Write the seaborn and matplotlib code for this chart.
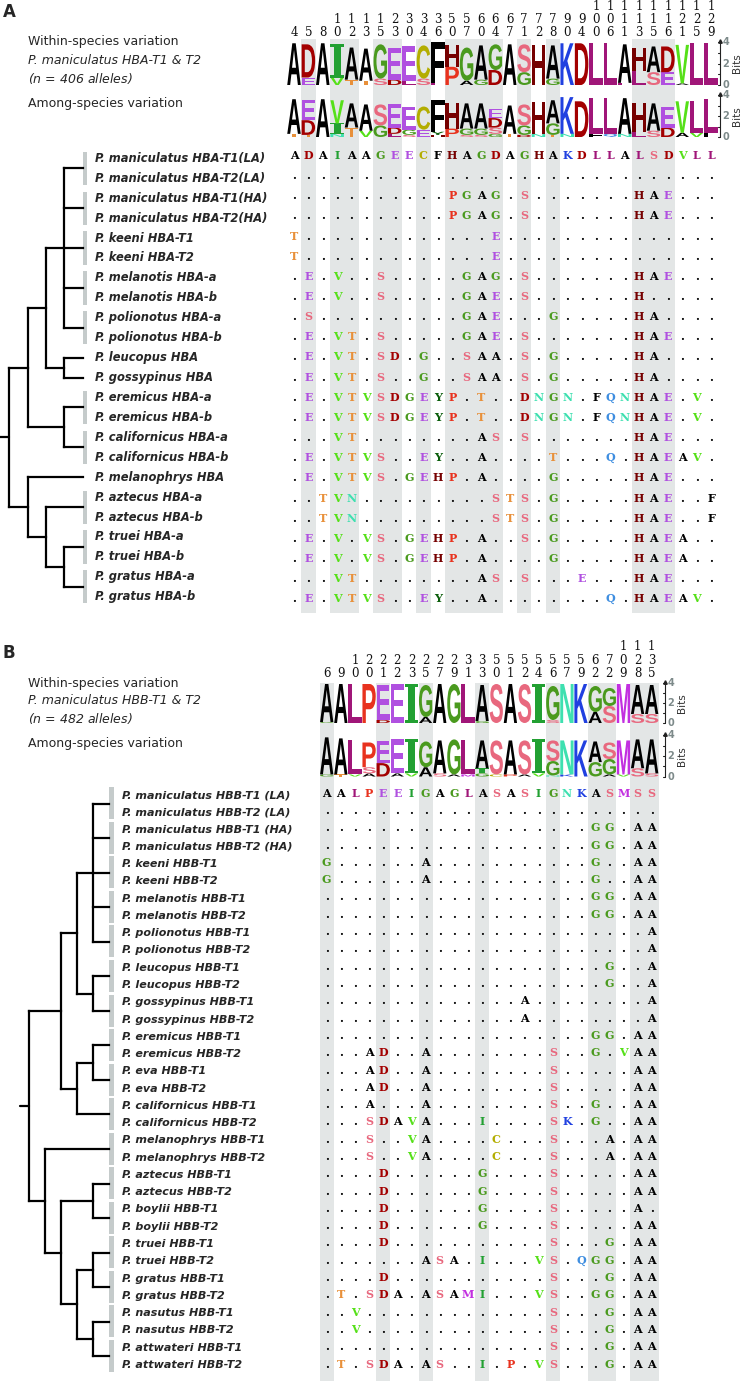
import numpy as np
import matplotlib
matplotlib.use("Agg")
import matplotlib.pyplot as plt
import seaborn as sns
from matplotlib.colors import ListedColormap
from matplotlib.font_manager import FontProperties
from matplotlib.patches import PathPatch, Rectangle
from matplotlib.textpath import TextPath
from matplotlib.transforms import Affine2D

sns.set_theme(style="white")
plt.rcParams["font.family"] = ["DejaVu Sans"]

W, H = 750, 1383

# ---------------- panel A data (HBA) ----------------
pos_a = [4, 5, 8, 10, 12, 13, 15, 23, 30, 34, 36, 50, 57, 60, 64, 67, 71, 72, 78,
         90, 94, 100, 106, 111, 113, 115, 116, 121, 125, 129]
shade_a = [0, 1, 0, 1, 1, 0, 1, 1, 0, 1, 0, 1, 1, 1, 1, 0, 1, 0, 1, 0, 0, 0, 0, 0,
           1, 1, 1, 0, 0, 0]
labels_a = ["P. maniculatus HBA-T1(LA)", "P. maniculatus HBA-T2(LA)",
            "P. maniculatus HBA-T1(HA)", "P. maniculatus HBA-T2(HA)",
            "P. keeni HBA-T1", "P. keeni HBA-T2",
            "P. melanotis HBA-a", "P. melanotis HBA-b",
            "P. polionotus HBA-a", "P. polionotus HBA-b",
            "P. leucopus HBA", "P. gossypinus HBA",
            "P. eremicus HBA-a", "P. eremicus HBA-b",
            "P. californicus HBA-a", "P. californicus HBA-b",
            "P. melanophrys HBA",
            "P. aztecus HBA-a", "P. aztecus HBA-b",
            "P. truei HBA-a", "P. truei HBA-b",
            "P. gratus HBA-a", "P. gratus HBA-b"]
seqs_a = ["ADAIAAGEECFHAGDAGHAKDLLALSDVLL",
          "..............................",
          "...........PGAG.S.......HAE...",
          "...........PGAG.S.......HAE...",
          "T.............E...............",
          "T.............E...............",
          ".E.V..S.....GAG.S.......HAE...",
          ".E.V..S.....GAE.S.......H.....",
          ".S..........GAE...G.....HA....",
          ".E.VT.S.....GAE.S.......HAE...",
          ".E.VT.SD.G..SAA.S.G.....HA....",
          ".E.VT.S..G..SAA.S.G.....HA....",
          ".E.VTVSDGEYP.T..DNGN.FQNHAE.V.",
          ".E.VTVSDGEYP.T..DNGN.FQNHAE.V.",
          "...VT........AS.S.......HAE...",
          ".E.VTVS..EY..A....T...Q.HAEAV.",
          ".E.VTVS.GEHP.A....G.....HAE...",
          "..TVN.........STS.G.....HAE..F",
          "..TVN.........STS.G.....HAE..F",
          ".E.V.VS.GEHP.A..S.G.....HAEA..",
          ".E.V.VS.GEHP.A....G.....HAEA..",
          "...VT........AS.S...E...HAE...",
          ".E.VTVS..EY..A........Q.HAEAV."]
# tips are row groups, lists are clades
tree_a = [[[[(0, 1), (2, 3), (4, 5), (6, 7), (8, 9)], [(10,), (11,)]],
           [(12, 13), (14, 15)]],
          [(16,), [(17, 18), [(19, 20), (21, 22)]]]]
logo_a_within = [
    [("A", 3.9)], [("D", 3.1), ("E", 0.7)], [("A", 3.9)], [("I", 3.1), ("V", 0.7)],
    [("A", 3.0), ("T", 0.5)], [("A", 3.0), ("T", 0.4)], [("G", 3.2), ("S", 0.6)],
    [("E", 3.0), ("D", 0.5)], [("E", 3.2), ("L", 0.4)], [("C", 3.1), ("S", 0.6)],
    [("F", 3.8), ("L", 0.2)], [("H", 2.0), ("P", 1.7)], [("G", 3.1), ("A", 0.4)],
    [("A", 3.2), ("G", 0.5)], [("G", 2.4), ("D", 1.4)], [("A", 3.8)],
    [("S", 2.6), ("G", 1.2)], [("H", 3.7)], [("A", 3.1), ("G", 0.6)],
    [("K", 3.9)], [("D", 3.9)], [("L", 3.9)], [("L", 3.9)], [("A", 3.6), ("L", 0.2)],
    [("H", 2.2), ("L", 1.3)], [("A", 2.4), ("S", 1.2)], [("D", 2.4), ("E", 1.2)],
    [("V", 3.6), ("A", 0.15)], [("L", 3.9)], [("L", 3.9)]]
logo_a_among = [
    [("A", 3.3), ("T", 0.3)], [("E", 1.9), ("D", 1.4), ("T", 0.2)], [("A", 3.6)],
    [("V", 2.2), ("I", 1.0), ("N", 0.3)], [("A", 2.3), ("T", 0.9)],
    [("A", 2.5), ("V", 0.6)], [("S", 2.0), ("G", 1.1)],
    [("E", 2.2), ("D", 0.6), ("L", 0.3)], [("E", 2.2), ("G", 0.5), ("S", 0.2)],
    [("C", 2.2), ("E", 0.7)], [("F", 3.0), ("Y", 0.3), ("H", 0.2)],
    [("H", 2.4), ("P", 0.8)], [("A", 2.4), ("G", 0.6), ("S", 0.2)],
    [("A", 2.4), ("G", 0.6), ("S", 0.2)], [("D", 0.9), ("E", 0.9), ("S", 0.6), ("G", 0.3)],
    [("A", 2.7), ("T", 0.3)], [("S", 2.0), ("G", 0.9), ("D", 0.2)],
    [("H", 3.0), ("N", 0.3)], [("A", 2.2), ("G", 1.1), ("T", 0.2)],
    [("K", 3.5), ("N", 0.3)], [("D", 3.4)], [("L", 3.4), ("F", 0.3)],
    [("L", 3.4), ("Q", 0.3)], [("A", 3.4), ("N", 0.3)], [("H", 2.7), ("L", 0.5)],
    [("A", 2.6), ("S", 0.6)], [("E", 2.0), ("D", 0.9)], [("V", 3.0), ("A", 0.4)],
    [("L", 3.0), ("V", 0.4)], [("L", 3.2), ("F", 0.4)]]

# ---------------- panel B data (HBB) ----------------
pos_b = [6, 9, 10, 20, 21, 22, 23, 25, 27, 29, 31, 33, 50, 51, 52, 54, 56, 57, 59,
         62, 72, 109, 128, 135]
shade_b = [1, 0, 0, 0, 1, 0, 0, 1, 0, 0, 0, 1, 0, 0, 0, 0, 1, 0, 0, 1, 1, 0, 1, 1]
labels_b = ["P. maniculatus HBB-T1 (LA)", "P. maniculatus HBB-T2 (LA)",
            "P. maniculatus HBB-T1 (HA)", "P. maniculatus HBB-T2 (HA)",
            "P. keeni HBB-T1", "P. keeni HBB-T2",
            "P. melanotis HBB-T1", "P. melanotis HBB-T2",
            "P. polionotus HBB-T1", "P. polionotus HBB-T2",
            "P. leucopus HBB-T1", "P. leucopus HBB-T2",
            "P. gossypinus HBB-T1", "P. gossypinus HBB-T2",
            "P. eremicus HBB-T1", "P. eremicus HBB-T2",
            "P. eva HBB-T1", "P. eva HBB-T2",
            "P. californicus HBB-T1", "P. californicus HBB-T2",
            "P. melanophrys HBB-T1", "P. melanophrys HBB-T2",
            "P. aztecus HBB-T1", "P. aztecus HBB-T2",
            "P. boylii HBB-T1", "P. boylii HBB-T2",
            "P. truei HBB-T1", "P. truei HBB-T2",
            "P. gratus HBB-T1", "P. gratus HBB-T2",
            "P. nasutus HBB-T1", "P. nasutus HBB-T2",
            "P. attwateri HBB-T1", "P. attwateri HBB-T2"]
seqs_b = ["AALPEEIGAGLASASIGNKASMSS",
          "........................",
          "...................GG.AA",
          "...................GG.AA",
          "G......A...........G..AA",
          "G......A...........G..AA",
          "...................GG.AA",
          "...................GG.AA",
          ".......................A",
          ".......................A",
          "....................G..A",
          "....................G..A",
          "..............A........A",
          "..............A........A",
          "...................GG.AA",
          "...AD..A........S..G.VAA",
          "...AD..A........S.....AA",
          "...AD..A........S.....AA",
          "...A...A........S..G..AA",
          "...SDAVA...I....SK.G..AA",
          "...S..VA....C...S...A.AA",
          "...S..VA....C...S...A.AA",
          "....D......G....S.....AA",
          "....D......G....S.....AA",
          "....D......G....S.....A.",
          "....D......G....S.....AA",
          "....D...........S...G.AA",
          ".......ASA.I...VS.QGG.AA",
          "....D...........S...G.AA",
          ".T.SDA.ASAMI...VS..GG.AA",
          "..V.............S...G.AA",
          "..V.............S...G.AA",
          "................S...G.AA",
          ".T.SDA.AS..I.P.VS...G.AA"]
tree_b = [[[[(0, 1), (2, 3), (4, 5), (6, 7), (8, 9)], [(10, 11), (12, 13)]],
           [[(14, 15), (16, 17)], (18, 19)]],
          [(20, 21), [[(22, 23), (24, 25)], [[(26, 27), (28, 29)], [(30, 31), (32, 33)]]]]]
logo_b_within = [
    [("A", 3.8), ("G", 0.1)], [("A", 3.9)], [("L", 3.9)], [("P", 3.9)],
    [("E", 3.5), ("D", 0.3)], [("E", 3.9)], [("I", 3.9)], [("G", 3.2), ("A", 0.6)],
    [("A", 3.9)], [("G", 3.9)], [("L", 3.9)], [("A", 3.6), ("G", 0.2)],
    [("S", 3.9)], [("A", 3.9)], [("S", 3.9)], [("I", 3.9)], [("G", 3.4), ("S", 0.3)],
    [("N", 3.9)], [("K", 3.9)], [("G", 2.6), ("A", 1.1)], [("G", 1.8), ("S", 1.7)],
    [("M", 3.9)], [("A", 2.9), ("S", 0.9)], [("A", 2.9), ("S", 0.9)]]
logo_b_among = [
    [("A", 3.6), ("G", 0.2)], [("A", 3.5), ("T", 0.2)], [("L", 3.3), ("V", 0.2)],
    [("P", 2.4), ("S", 0.6), ("A", 0.3)], [("E", 2.1), ("D", 1.3)],
    [("E", 3.3), ("A", 0.3)], [("I", 3.3), ("V", 0.3)], [("G", 2.5), ("A", 0.9)],
    [("A", 3.2), ("S", 0.3)], [("G", 3.4), ("A", 0.2)], [("L", 3.3), ("M", 0.2)],
    [("A", 2.7), ("I", 0.5), ("G", 0.3)], [("S", 3.3), ("C", 0.2)],
    [("A", 3.3), ("P", 0.2)], [("S", 3.3), ("A", 0.2)], [("I", 3.3), ("V", 0.3)],
    [("S", 2.0), ("G", 1.4), ("N", 0.1)], [("N", 3.3), ("K", 0.2)], [("K", 3.5)],
    [("A", 2.0), ("G", 1.4)], [("S", 1.6), ("G", 1.5), ("A", 0.2)],
    [("M", 3.3), ("V", 0.2)], [("A", 2.8), ("S", 0.8)], [("A", 3.3), ("S", 0.3)]]

# residue colours
aa_colors = {"A": "#000000", "C": "#b3ad00", "D": "#a30000", "E": "#b050e0",
             "F": "#000000", "G": "#4a9a1e", "H": "#760000", "I": "#22a032",
             "K": "#2040e0", "L": "#a01678", "M": "#c22fe0", "N": "#3ee0b0",
             "P": "#e8321e", "Q": "#3f8ee0", "S": "#e8687e", "T": "#e8903a",
             "V": "#55e018", "Y": "#0b5e0b", ".": "#000000"}
SHADE = "#e3e6e6"
BAR = "#c5cbcb"

fig = plt.figure(figsize=(W / 100, H / 100), dpi=100)
ax = fig.add_axes([0, 0, 1, 1], zorder=2)
ax.set_xlim(0, W)
ax.set_ylim(H, 0)
ax.axis("off")
ax.patch.set_alpha(0)

fp_logo = FontProperties(family="Liberation Sans", weight="bold")
fp_logo_i = FontProperties(family="DejaVu Serif", weight="bold")


def shade_columns(xs, cw, y_top, y_bot, flags):
    left = (xs[0] - cw / 2) / W
    right = (xs[-1] + cw / 2) / W
    axh = fig.add_axes([left, 1 - y_bot / H, right - left, (y_bot - y_top) / H], zorder=0)
    data = np.array([flags], dtype=float)
    sns.heatmap(data, mask=data == 0, cmap=ListedColormap([SHADE, SHADE]), vmin=0, vmax=1,
                cbar=False, xticklabels=False, yticklabels=False, ax=axh)
    axh.set_axis_off()


def draw_letter(ch, xc, y_bot, w, h):
    if h <= 0.3:
        return
    tp = TextPath((0, 0), ch, size=10, prop=fp_logo_i if ch == "I" else fp_logo)
    bb = tp.get_extents()
    tr = (Affine2D().translate(-bb.x0, -bb.y0)
          .scale(w / bb.width, -h / bb.height).translate(xc - w / 2, y_bot))
    ax.add_patch(PathPatch(tr.transform_path(tp), fc=aa_colors.get(ch, "k"), ec="none", lw=0))


def draw_logo(logo, xs, cw, base, ppb):
    for x, stack in zip(xs, logo):
        y = base
        for ch, bits in sorted(stack, key=lambda t: t[1]):
            h = bits * ppb
            draw_letter(ch, x, y, cw * 0.94, h)
            y -= h


def bits_axis(x, base, ppb):
    ax.plot([x, x], [base, base - 4.1 * ppb], color="#222222", lw=0.8)
    ax.plot([x], [base - 4.1 * ppb], marker="^", ms=2.5, color="#222222")
    for b in range(5):
        ax.plot([x - 2.5, x], [base - b * ppb] * 2, color="#222222", lw=0.8)
    for b in (0, 2, 4):
        ax.text(x + 2.5, base - b * ppb, str(b), color="#7d8a8a", fontsize=7,
                fontweight="bold", ha="left", va="center")
    ax.text(x + 17, base - 2 * ppb, "Bits", rotation=90, fontsize=7.5,
            color="#333333", ha="center", va="center")


def draw_tree(node, row_y, tip_x, step):
    if isinstance(node, tuple):
        ys = [row_y[r] for r in node]
        return tip_x, (min(ys) + max(ys)) / 2, 0
    kids = [draw_tree(c, row_y, tip_x, step) for c in node]
    h = max(k[2] for k in kids) + 1
    x = tip_x - h * step
    ys = [k[1] for k in kids]
    for kx, ky, _ in kids:
        ax.plot([x, kx], [ky, ky], color="black", lw=1.6, solid_capstyle="projecting")
    ax.plot([x, x], [min(ys), max(ys)], color="black", lw=1.6, solid_capstyle="projecting")
    return x, (min(ys) + max(ys)) / 2, h


def tip_bars(node, row_y, bx, bw, up, down):
    if isinstance(node, tuple):
        if len(node) > 1:
            y0 = row_y[node[0]] - up
            y1 = row_y[node[-1]] + down
            ax.add_patch(Rectangle((bx, y0), bw, y1 - y0, fc=BAR, ec="none"))
        return
    for c in node:
        tip_bars(c, row_y, bx, bw, up, down)


def draw_panel(L):
    n = len(L["pos"])
    xs = L["x0"] + L["dx"] * np.arange(n)
    shade_columns(xs, L["dx"], L["shade_y"][0], L["shade_y"][1], L["shade"])
    # position numbers, stacked vertically
    for x, p in zip(xs, L["pos"]):
        s = str(p)
        for j, ch in enumerate(s):
            ax.text(x, L["digit_y"][3 - len(s) + j], ch, ha="center", va="center",
                    fontsize=8.5, family="DejaVu Serif", color="#111111")
    draw_logo(L["logo1"], xs, L["dx"], L["logo1_base"], L["ppb1"])
    draw_logo(L["logo2"], xs, L["dx"], L["logo2_base"], L["ppb2"])
    bits_axis(L["bits_x"], L["logo1_base"], L["ppb1"])
    bits_axis(L["bits_x"], L["logo2_base"], L["ppb2"])
    # alignment
    for i, seq in enumerate(L["seqs"]):
        yb = L["row0"] + L["drow"] * i + 4
        for x, ch in zip(xs, seq):
            ax.text(x, yb, ch, ha="center", va="baseline", fontsize=8,
                    family="DejaVu Serif", fontweight="bold", color=aa_colors.get(ch, "k"))
    # labels and tree
    lab_y = L["lab0"] + L["dlab"] * np.arange(len(L["labels"]))
    for y, lab in zip(lab_y, L["labels"]):
        ax.text(L["lab_x"], y, lab, ha="left", va="center", fontsize=L["lab_fs"],
                fontweight="bold", fontstyle="italic")
    tip_bars(L["tree"], lab_y, L["tip_x"], 4.2, L["bar_up"], L["bar_down"])
    rx, ry, _ = draw_tree(L["tree"], lab_y, L["tip_x"], L["step"])
    ax.plot([rx - L["root_tick"], rx], [ry, ry], color="black", lw=1.6)
    # header texts
    ax.text(L["letter_xy"][0], L["letter_xy"][1], L["letter"], fontsize=12,
            fontweight="bold", ha="left", va="center")
    tx, ty = L["title_xy"]
    ax.text(tx, ty, "Within-species variation", fontsize=9, ha="left", va="center")
    ax.text(tx, ty + 18, L["species"], fontsize=9, style="italic", ha="left", va="center")
    ax.text(tx, ty + 36, "(" + r"$\it{n}$" + " = %d alleles)" % L["n"], fontsize=9,
            style="italic", ha="left", va="center")
    ax.text(tx, L["among_y"], "Among-species variation", fontsize=9, ha="left", va="center")


panel_a = dict(pos=pos_a, shade=shade_a, seqs=seqs_a, labels=labels_a, tree=tree_a,
               logo1=logo_a_within, logo2=logo_a_among,
               x0=294, dx=14.38, shade_y=(39, 613), digit_y=(6, 19.5, 33),
               logo1_base=85, ppb1=10.7, logo2_base=137, ppb2=10.5, bits_x=720,
               row0=155, drow=20.15, lab0=158.3, dlab=19.93, lab_x=95, lab_fs=8.3,
               tip_x=82.7, step=18.35, root_tick=9.3, bar_up=6.6, bar_down=6.7,
               letter="A", letter_xy=(3, 12), title_xy=(28, 42), among_y=103,
               species="P. maniculatus HBA-T1 & T2", n=406)
panel_b = dict(pos=pos_b, shade=shade_b, seqs=seqs_b, labels=labels_b, tree=tree_b,
               logo1=logo_b_within, logo2=logo_b_among,
               x0=326.7, dx=14.13, shade_y=(683, 1381), digit_y=(646.7, 660.7, 673.3),
               logo1_base=723, ppb1=10.0, logo2_base=776.5, ppb2=10.3, bits_x=665,
               row0=792.7, drow=17.3, lab0=795, dlab=17.27, lab_x=121.7, lab_fs=8.0,
               tip_x=109.3, step=16, root_tick=9.3, bar_up=7.7, bar_down=7.0,
               letter="B", letter_xy=(3, 653), title_xy=(28, 683), among_y=744,
               species="P. maniculatus HBB-T1 & T2", n=482)

draw_panel(panel_a)
draw_panel(panel_b)

fig.savefig("out.png", dpi=100)
